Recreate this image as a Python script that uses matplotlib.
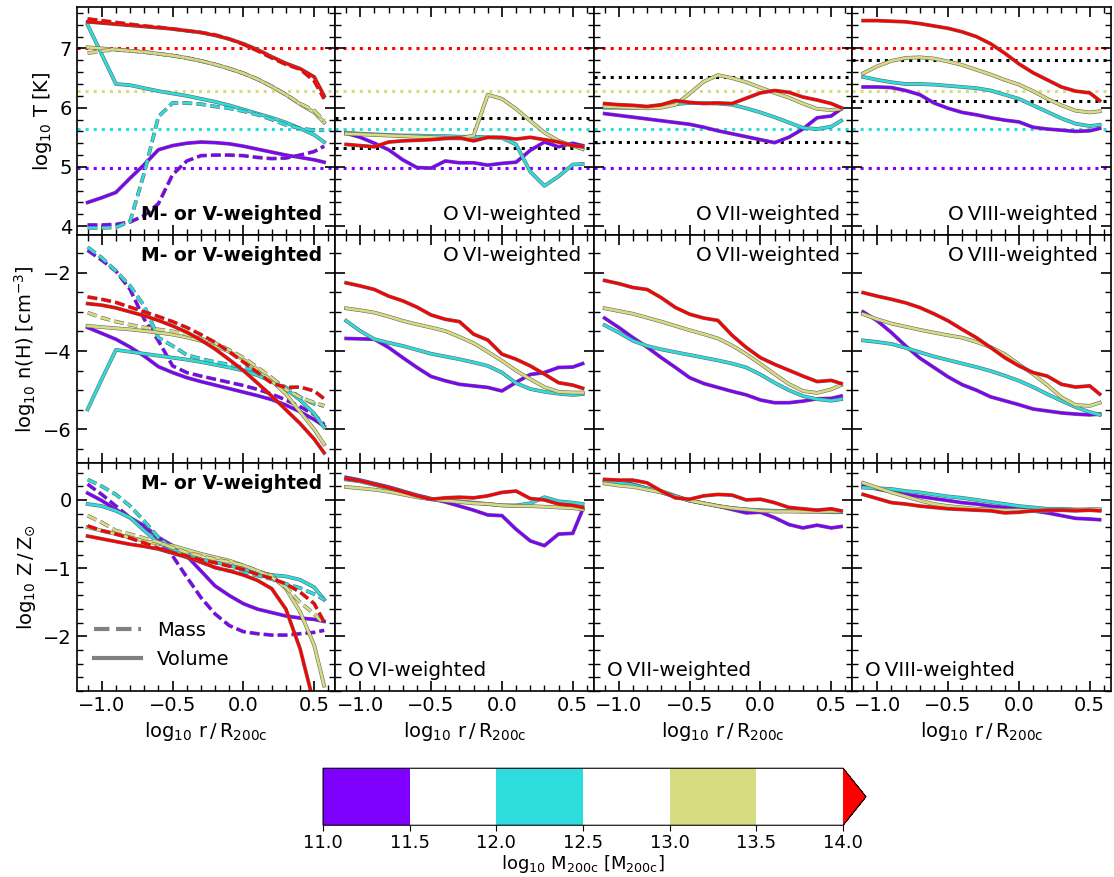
import matplotlib
matplotlib.use('Agg')
import matplotlib.pyplot as plt
import matplotlib.patheffects as pe
from matplotlib.colors import ListedColormap, BoundaryNorm
from matplotlib.ticker import MultipleLocator

# radial bin centres, log10 r / R200c
r_bins = [-1.1, -1.0, -0.9, -0.8, -0.7, -0.6, -0.5, -0.4, -0.3, -0.2,
          -0.1, 0.0, 0.1, 0.2, 0.3, 0.4, 0.5, 0.57]

# halo mass bins: purple 11-11.5, cyan 12-12.5, olive 13-13.5, red >14
mass_colors = ['#8000ff', '#2ddcdc', '#d7dc80', '#ff0000']
cbar_bounds = [11.0, 11.5, 12.0, 12.5, 13.0, 13.5, 14.0]

# ---- temperature, log10 T [K] ----
T_vol = [
    [4.40, 4.48, 4.57, 4.81, 5.04, 5.29, 5.36, 5.40, 5.42, 5.41, 5.39, 5.35, 5.30, 5.25, 5.20, 5.16, 5.12, 5.08],
    [7.40, 6.90, 6.40, 6.38, 6.33, 6.28, 6.24, 6.20, 6.15, 6.10, 6.04, 5.97, 5.90, 5.83, 5.75, 5.65, 5.54, 5.42],
    [7.02, 7.00, 6.98, 6.96, 6.94, 6.91, 6.88, 6.84, 6.79, 6.73, 6.66, 6.58, 6.48, 6.36, 6.22, 6.06, 5.92, 5.75],
    [7.45, 7.43, 7.41, 7.39, 7.37, 7.35, 7.33, 7.30, 7.27, 7.22, 7.16, 7.08, 6.98, 6.86, 6.75, 6.66, 6.52, 6.20],
]
T_mass = [
    [4.02, 4.02, 4.03, 4.07, 4.18, 4.38, 4.87, 5.10, 5.19, 5.20, 5.20, 5.19, 5.16, 5.14, 5.15, 5.20, 5.26, 5.35],
    [3.97, 3.97, 3.98, 4.08, 4.90, 5.85, 6.08, 6.08, 6.06, 6.02, 5.99, 5.94, 5.88, 5.80, 5.71, 5.65, 5.62, 5.62],
    [6.92, 6.96, 6.98, 6.96, 6.94, 6.91, 6.88, 6.84, 6.79, 6.73, 6.66, 6.58, 6.48, 6.36, 6.22, 6.07, 5.95, 5.78],
    [7.50, 7.47, 7.44, 7.41, 7.38, 7.36, 7.33, 7.30, 7.27, 7.23, 7.16, 7.07, 6.96, 6.84, 6.73, 6.65, 6.45, 6.15],
]
T_o6 = [
    [5.57, 5.50, 5.40, 5.29, 5.12, 4.99, 4.98, 5.10, 5.07, 5.07, 5.03, 5.06, 5.08, 5.28, 5.42, 5.34, 5.40, 5.36],
    [5.58, 5.56, 5.55, 5.54, 5.53, 5.53, 5.52, 5.52, 5.51, 5.51, 5.50, 5.49, 5.38, 4.92, 4.68, 4.84, 5.04, 5.05],
    [5.56, 5.55, 5.54, 5.53, 5.52, 5.51, 5.50, 5.49, 5.48, 5.53, 6.22, 6.15, 5.98, 5.78, 5.58, 5.44, 5.36, 5.30],
    [5.38, 5.36, 5.34, 5.42, 5.44, 5.45, 5.46, 5.48, 5.49, 5.44, 5.50, 5.50, 5.47, 5.50, 5.46, 5.42, 5.36, 5.34],
]
T_o7 = [
    [5.90, 5.87, 5.84, 5.81, 5.78, 5.75, 5.72, 5.67, 5.61, 5.56, 5.51, 5.46, 5.41, 5.50, 5.64, 5.83, 5.86, 5.98],
    [6.00, 6.00, 6.00, 6.01, 6.03, 6.06, 6.08, 6.08, 6.07, 6.05, 5.99, 5.92, 5.84, 5.75, 5.66, 5.64, 5.68, 5.78],
    [6.02, 6.01, 6.00, 5.99, 6.00, 6.05, 6.24, 6.44, 6.55, 6.50, 6.43, 6.34, 6.25, 6.17, 6.07, 5.98, 5.96, 5.98],
    [6.07, 6.05, 6.04, 6.02, 6.05, 6.12, 6.09, 6.07, 6.08, 6.07, 6.16, 6.25, 6.29, 6.26, 6.18, 6.13, 6.07, 6.00],
]
T_o8 = [
    [6.35, 6.35, 6.34, 6.29, 6.22, 6.08, 5.99, 5.92, 5.88, 5.83, 5.79, 5.76, 5.67, 5.64, 5.62, 5.60, 5.61, 5.65],
    [6.52, 6.47, 6.43, 6.40, 6.40, 6.39, 6.37, 6.35, 6.33, 6.29, 6.22, 6.15, 6.04, 5.93, 5.82, 5.73, 5.69, 5.71],
    [6.58, 6.70, 6.79, 6.84, 6.85, 6.83, 6.78, 6.72, 6.64, 6.56, 6.47, 6.39, 6.28, 6.15, 6.04, 5.95, 5.92, 5.94],
    [7.47, 7.47, 7.46, 7.45, 7.42, 7.38, 7.34, 7.28, 7.20, 7.08, 6.92, 6.74, 6.59, 6.47, 6.35, 6.28, 6.25, 6.12],
]
# reference temperatures: per mass bin (coloured) and per ion (black)
T_mass_ref = [4.98, 5.64, 6.29, 7.00]
T_ion_ref = {'o6': [5.82, 5.32], 'o7': [6.51, 5.42], 'o8': [6.81, 6.12]}

# ---- hydrogen density, log10 n(H) [cm^-3] ----
n_vol = [
    [-3.40, -3.55, -3.70, -3.90, -4.13, -4.40, -4.55, -4.68, -4.78, -4.87, -4.96, -5.05, -5.14, -5.24, -5.38, -5.55, -5.75, -5.92],
    [-5.49, -4.72, -3.97, -4.02, -4.07, -4.12, -4.17, -4.22, -4.28, -4.35, -4.42, -4.50, -4.62, -4.78, -4.97, -5.25, -5.60, -5.95],
    [-3.36, -3.39, -3.42, -3.45, -3.49, -3.53, -3.58, -3.65, -3.74, -3.86, -4.02, -4.22, -4.47, -4.76, -5.10, -5.55, -6.00, -6.38],
    [-2.79, -2.83, -2.90, -3.00, -3.10, -3.22, -3.36, -3.52, -3.72, -3.95, -4.22, -4.50, -4.82, -5.15, -5.50, -5.85, -6.25, -6.60],
]
n_mass = [
    [-1.43, -1.68, -1.96, -2.43, -3.19, -3.74, -4.38, -4.55, -4.64, -4.72, -4.80, -4.88, -4.98, -5.10, -5.25, -5.42, -5.62, -5.88],
    [-1.35, -1.62, -1.96, -2.34, -2.85, -3.66, -3.87, -4.10, -4.20, -4.28, -4.35, -4.42, -4.52, -4.72, -4.93, -5.18, -5.35, -5.40],
    [-3.02, -3.15, -3.25, -3.33, -3.40, -3.45, -3.50, -3.58, -3.68, -3.80, -3.97, -4.17, -4.42, -4.68, -4.98, -5.18, -5.32, -5.40],
    [-2.62, -2.68, -2.76, -2.88, -3.00, -3.12, -3.25, -3.40, -3.58, -3.78, -4.02, -4.28, -4.55, -4.82, -4.93, -4.92, -5.02, -5.22],
]
n_o6 = [
    [-3.68, -3.69, -3.70, -3.91, -4.17, -4.42, -4.65, -4.76, -4.85, -4.89, -4.93, -5.02, -4.80, -4.60, -4.55, -4.42, -4.41, -4.32],
    [-3.23, -3.49, -3.70, -3.79, -3.87, -3.97, -4.07, -4.14, -4.21, -4.29, -4.38, -4.55, -4.82, -4.97, -5.04, -5.09, -5.12, -5.10],
    [-2.91, -2.96, -3.02, -3.12, -3.23, -3.32, -3.40, -3.49, -3.64, -3.80, -4.02, -4.25, -4.50, -4.72, -4.92, -5.04, -5.06, -5.06],
    [-2.26, -2.34, -2.43, -2.60, -2.72, -2.88, -3.08, -3.19, -3.25, -3.57, -3.72, -4.08, -4.21, -4.38, -4.59, -4.81, -4.87, -4.95],
]
n_o7 = [
    [-3.16, -3.40, -3.66, -3.90, -4.17, -4.42, -4.68, -4.83, -4.93, -5.03, -5.12, -5.25, -5.32, -5.32, -5.28, -5.22, -5.21, -5.15],
    [-3.34, -3.53, -3.74, -3.87, -3.96, -4.03, -4.10, -4.17, -4.24, -4.32, -4.42, -4.60, -4.81, -5.00, -5.15, -5.23, -5.27, -5.23],
    [-2.91, -2.98, -3.05, -3.15, -3.25, -3.36, -3.47, -3.57, -3.68, -3.86, -4.08, -4.33, -4.59, -4.84, -5.02, -5.07, -4.98, -4.87],
    [-2.20, -2.28, -2.38, -2.43, -2.64, -2.89, -3.06, -3.16, -3.22, -3.60, -3.91, -4.17, -4.34, -4.49, -4.64, -4.78, -4.75, -4.83],
]
n_o8 = [
    [-3.00, -3.23, -3.53, -3.87, -4.18, -4.42, -4.66, -4.86, -5.00, -5.17, -5.27, -5.37, -5.48, -5.53, -5.58, -5.61, -5.63, -5.61],
    [-3.73, -3.77, -3.82, -3.92, -4.03, -4.14, -4.23, -4.32, -4.41, -4.51, -4.63, -4.76, -4.92, -5.10, -5.27, -5.43, -5.56, -5.63],
    [-3.06, -3.19, -3.30, -3.38, -3.46, -3.53, -3.60, -3.66, -3.77, -3.90, -4.08, -4.34, -4.59, -4.87, -5.18, -5.38, -5.40, -5.32],
    [-2.51, -2.60, -2.68, -2.77, -2.89, -3.05, -3.23, -3.45, -3.66, -3.91, -4.17, -4.38, -4.55, -4.64, -4.85, -4.92, -4.89, -5.10],
]

# ---- metallicity, log10 Z / Zsun ----
Z_vol = [
    [0.10, -0.01, -0.14, -0.26, -0.38, -0.55, -0.67, -0.82, -1.04, -1.26, -1.40, -1.52, -1.60, -1.65, -1.70, -1.73, -1.75, -1.78],
    [-0.06, -0.09, -0.16, -0.26, -0.45, -0.63, -0.72, -0.79, -0.87, -0.91, -0.96, -1.01, -1.06, -1.10, -1.12, -1.17, -1.28, -1.46],
    [-0.40, -0.45, -0.50, -0.55, -0.60, -0.64, -0.67, -0.73, -0.79, -0.84, -0.89, -0.96, -1.04, -1.11, -1.30, -1.64, -2.13, -2.72],
    [-0.53, -0.57, -0.61, -0.65, -0.68, -0.72, -0.78, -0.84, -0.91, -0.99, -1.04, -1.10, -1.18, -1.30, -1.60, -2.18, -3.00, -3.30],
]
Z_mass = [
    [0.23, 0.08, -0.09, -0.26, -0.40, -0.60, -0.82, -1.13, -1.43, -1.67, -1.84, -1.93, -1.96, -1.98, -1.98, -1.96, -1.94, -1.91],
    [0.30, 0.20, 0.08, -0.09, -0.31, -0.55, -0.72, -0.84, -0.91, -0.99, -1.04, -1.06, -1.11, -1.16, -1.23, -1.29, -1.38, -1.46],
    [-0.23, -0.33, -0.45, -0.50, -0.56, -0.62, -0.70, -0.77, -0.82, -0.87, -0.91, -0.96, -1.04, -1.13, -1.28, -1.50, -1.67, -1.82],
    [-0.38, -0.45, -0.50, -0.56, -0.63, -0.71, -0.77, -0.82, -0.88, -0.92, -0.97, -1.02, -1.09, -1.15, -1.23, -1.35, -1.52, -1.79],
]
Z_o6 = [
    [0.33, 0.29, 0.24, 0.19, 0.13, 0.07, 0.02, -0.03, -0.09, -0.15, -0.22, -0.23, -0.43, -0.60, -0.67, -0.50, -0.49, -0.14],
    [0.30, 0.27, 0.22, 0.17, 0.11, 0.05, 0.01, -0.01, -0.02, -0.04, -0.06, -0.08, -0.08, -0.05, 0.04, -0.02, -0.04, -0.06],
    [0.19, 0.17, 0.15, 0.12, 0.08, 0.04, 0.01, -0.01, -0.03, -0.05, -0.06, -0.08, -0.09, -0.09, -0.10, -0.11, -0.12, -0.14],
    [0.31, 0.28, 0.23, 0.18, 0.12, 0.06, 0.01, 0.03, 0.04, 0.03, 0.06, 0.11, 0.13, 0.02, 0.00, -0.06, -0.08, -0.11],
]
Z_o7 = [
    [0.29, 0.26, 0.23, 0.17, 0.11, 0.05, -0.01, -0.05, -0.09, -0.14, -0.19, -0.18, -0.26, -0.36, -0.41, -0.37, -0.41, -0.39],
    [0.28, 0.25, 0.22, 0.17, 0.13, 0.06, -0.01, -0.05, -0.09, -0.12, -0.14, -0.15, -0.16, -0.16, -0.17, -0.17, -0.18, -0.18],
    [0.24, 0.21, 0.19, 0.15, 0.11, 0.05, -0.01, -0.05, -0.09, -0.12, -0.14, -0.16, -0.17, -0.17, -0.17, -0.17, -0.17, -0.17],
    [0.30, 0.29, 0.29, 0.25, 0.13, 0.03, 0.01, 0.06, 0.08, 0.07, 0.00, 0.01, -0.04, -0.11, -0.13, -0.15, -0.13, -0.16],
]
Z_o8 = [
    [0.21, 0.16, 0.12, 0.08, 0.05, 0.02, -0.01, -0.04, -0.06, -0.09, -0.11, -0.13, -0.16, -0.19, -0.23, -0.27, -0.28, -0.29],
    [0.18, 0.17, 0.16, 0.13, 0.11, 0.08, 0.05, 0.03, 0.00, -0.03, -0.06, -0.09, -0.11, -0.13, -0.13, -0.14, -0.14, -0.14],
    [0.25, 0.18, 0.11, 0.05, -0.01, -0.06, -0.09, -0.11, -0.13, -0.14, -0.15, -0.15, -0.16, -0.16, -0.15, -0.15, -0.14, -0.14],
    [0.08, 0.02, -0.04, -0.06, -0.09, -0.11, -0.13, -0.14, -0.15, -0.16, -0.19, -0.18, -0.16, -0.15, -0.15, -0.16, -0.15, -0.16],
]

ion_labels = ['O\u2009VI-weighted', 'O\u2009VII-weighted', 'O\u2009VIII-weighted']
ylabels = [r'$\log_{10}\,\mathrm{T}\;[\mathrm{K}]$',
           r'$\log_{10}\,\mathrm{n(H)}\;[\mathrm{cm}^{-3}]$',
           r'$\log_{10}\,\mathrm{Z}\,/\,\mathrm{Z}_{\odot}$']
ylims = [(3.85, 7.70), (-6.86, -1.04), (-2.80, 0.54)]
ymajor = [1.0, 2.0, 1.0]
yminor = [0.2, 0.5, 0.2]

LW = 1.9
outline = [pe.Stroke(linewidth=LW + 0.8, foreground='0.4'), pe.Normal()]


def draw(ax, y, color, ls='-'):
    ax.plot(r_bins, y, color=color, linestyle=ls, linewidth=LW,
            path_effects=outline)


fig, axes = plt.subplots(3, 4, figsize=(11.14, 8.77), dpi=100,
                         sharex=True, sharey='row')
fig.subplots_adjust(left=0.0691, right=0.9973, top=0.992, bottom=0.212,
                    wspace=0, hspace=0)

rows = [(T_vol, T_mass, [T_o6, T_o7, T_o8]),
        (n_vol, n_mass, [n_o6, n_o7, n_o8]),
        (Z_vol, Z_mass, [Z_o6, Z_o7, Z_o8])]

for i, (vol, mass, ions) in enumerate(rows):
    # first column: mass- and volume-weighted profiles
    ax = axes[i, 0]
    for k in range(4):
        draw(ax, vol[k], mass_colors[k], '-')
        draw(ax, mass[k], mass_colors[k], '--')
    for j, ion in enumerate(ions):
        ax = axes[i, j + 1]
        for k in range(4):
            draw(ax, ion[k], mass_colors[k])

    for ax in axes[i]:
        ax.set_ylim(*ylims[i])
        ax.yaxis.set_major_locator(MultipleLocator(ymajor[i]))
        ax.yaxis.set_minor_locator(MultipleLocator(yminor[i]))
    axes[i, 0].set_ylabel(ylabels[i], fontsize=14)

# reference temperatures in the top row
for j, ax in enumerate(axes[0]):
    for k, tref in enumerate(T_mass_ref):
        ax.axhline(tref, color=mass_colors[k], linestyle=':', linewidth=2.2, zorder=1)
for ax, key in zip(axes[0, 1:], ['o6', 'o7', 'o8']):
    for tref in T_ion_ref[key]:
        ax.axhline(tref, color='black', linestyle=':', linewidth=2.2, zorder=1)

for ax in axes.flat:
    ax.set_xlim(-1.175, 0.65)
    ax.xaxis.set_major_locator(MultipleLocator(0.5))
    ax.xaxis.set_minor_locator(MultipleLocator(0.1))
    ax.tick_params(which='both', direction='in', top=True, right=True,
                   labelsize=14)
    ax.tick_params(which='major', length=7, width=1.2)
    ax.tick_params(which='minor', length=4, width=1.0)
    for sp in ax.spines.values():
        sp.set_linewidth(1.2)

for ax in axes[2]:
    ax.set_xlabel(r'$\log_{10}\,\mathrm{r}\,/\,\mathrm{R}_{\mathrm{200c}}$', fontsize=14)

# panel labels
axes[0, 0].text(0.95, 0.05, 'M- or V-weighted', transform=axes[0, 0].transAxes,
                ha='right', va='bottom', fontweight='bold', fontsize=13.5)
axes[1, 0].text(0.95, 0.95, 'M- or V-weighted', transform=axes[1, 0].transAxes,
                ha='right', va='top', fontweight='bold', fontsize=13.5)
axes[2, 0].text(0.95, 0.95, 'M- or V-weighted', transform=axes[2, 0].transAxes,
                ha='right', va='top', fontweight='bold', fontsize=13.5)
for j, name in enumerate(ion_labels):
    axes[0, j + 1].text(0.95, 0.05, name, transform=axes[0, j + 1].transAxes,
                        ha='right', va='bottom', fontsize=14.3)
    axes[1, j + 1].text(0.95, 0.95, name, transform=axes[1, j + 1].transAxes,
                        ha='right', va='top', fontsize=14.3)
    axes[2, j + 1].text(0.05, 0.05, name, transform=axes[2, j + 1].transAxes,
                        ha='left', va='bottom', fontsize=14.3)

# legend for line styles
h_mass, = axes[2, 0].plot([], [], color='gray', linestyle='--', linewidth=3, label='Mass')
h_vol, = axes[2, 0].plot([], [], color='gray', linestyle='-', linewidth=3, label='Volume')
axes[2, 0].legend(handles=[h_mass, h_vol], loc='lower left', frameon=False,
                  fontsize=14, handlelength=2.4, bbox_to_anchor=(0.0, 0.02))

# discrete colour bar for the halo mass bins
cmap = ListedColormap([mass_colors[0], 'white', mass_colors[1], 'white',
                       mass_colors[2], 'white'])
cmap.set_over(mass_colors[3])
norm = BoundaryNorm(cbar_bounds, cmap.N)
cax = fig.add_axes([0.29, 0.059, 0.4874, 0.065])
sm = plt.cm.ScalarMappable(cmap=cmap, norm=norm)
cb = fig.colorbar(sm, cax=cax, orientation='horizontal', extend='max',
                  extendfrac=0.044, ticks=cbar_bounds, format='%.1f')
cb.ax.tick_params(labelsize=13, length=4, pad=2)
cb.set_label(r'$\log_{10}\,\mathrm{M}_{\mathrm{200c}}\;[\mathrm{M}_{\mathrm{200c}}]$',
             fontsize=13, labelpad=1)

fig.savefig('out.png', dpi=100)
